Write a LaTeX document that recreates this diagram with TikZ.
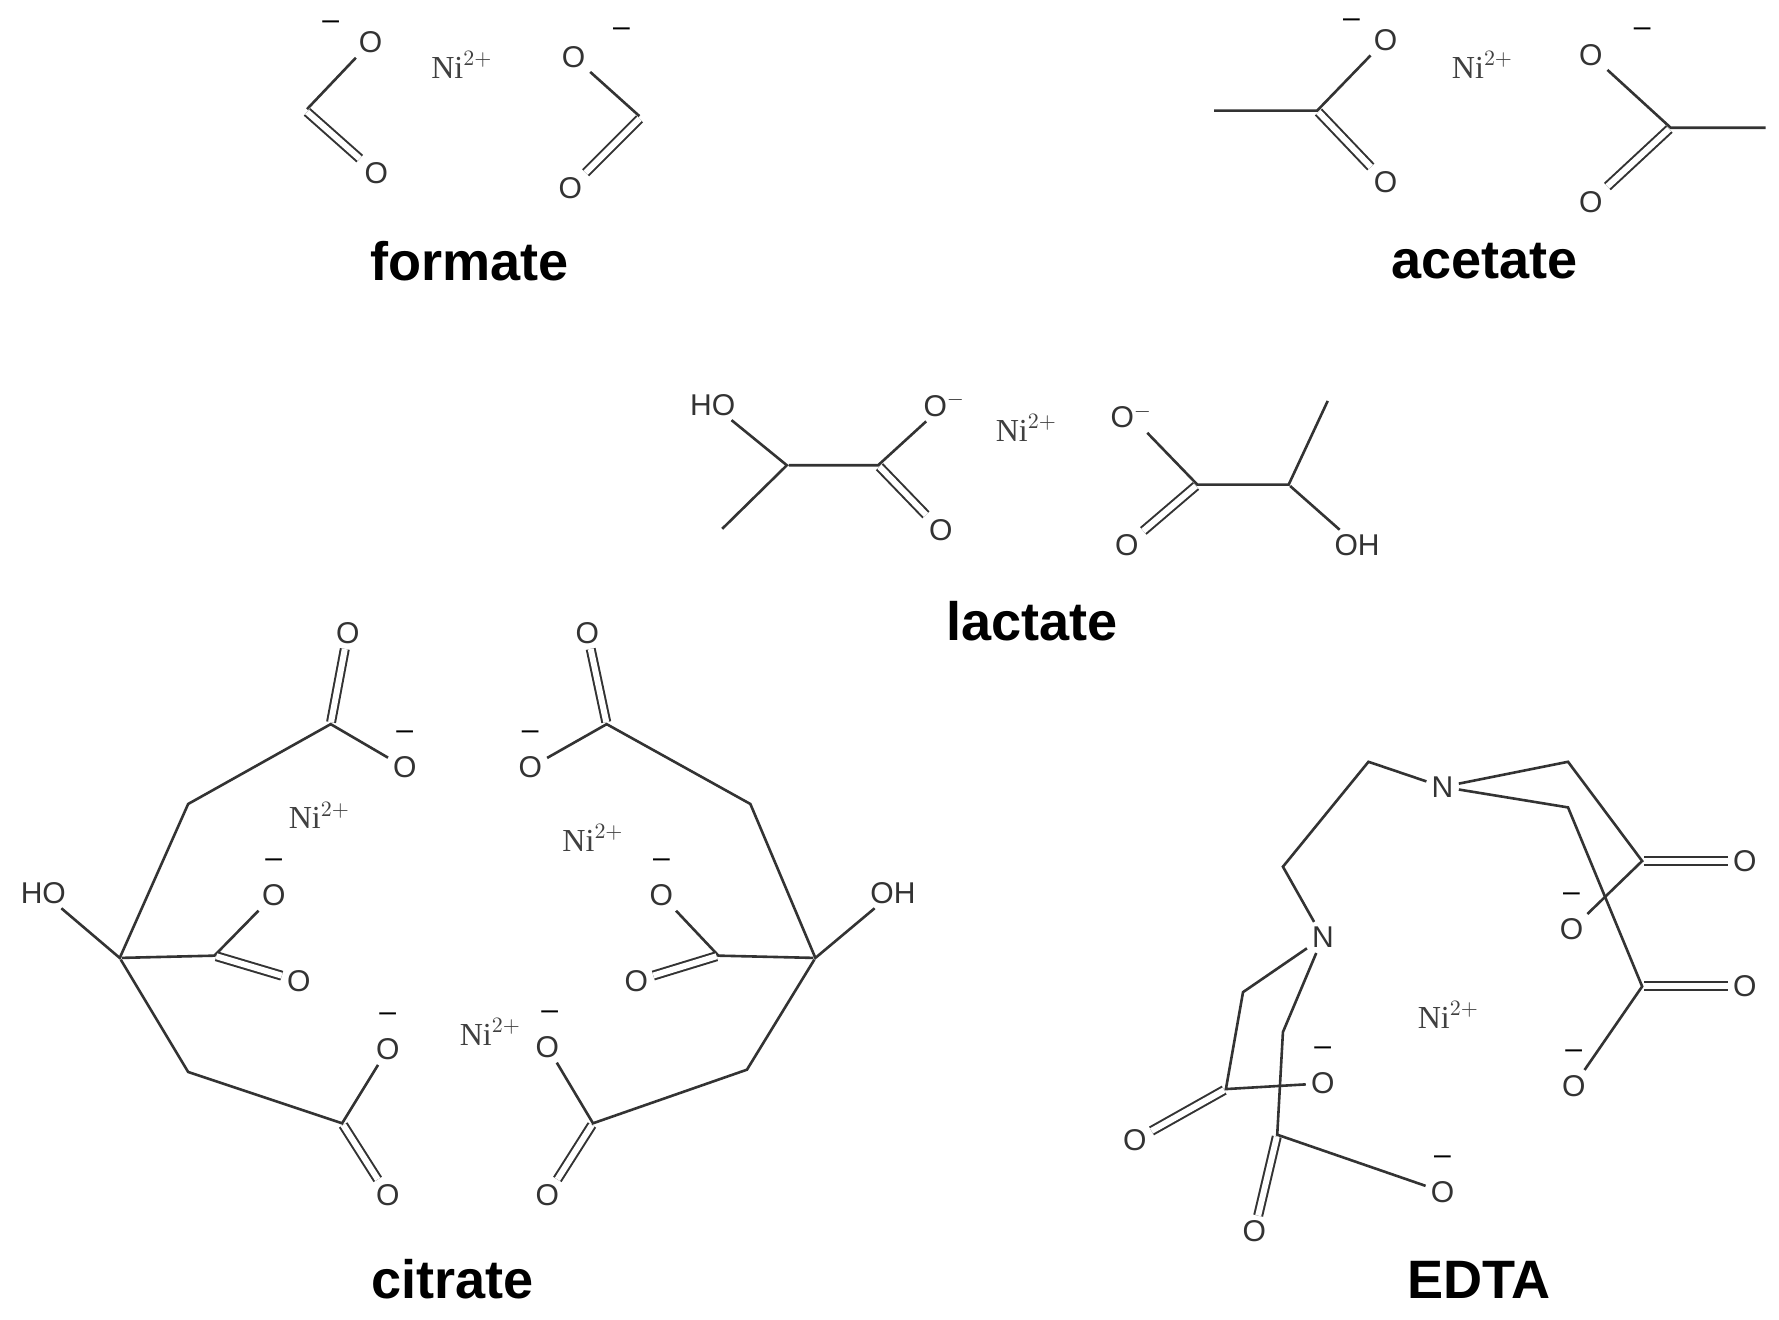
\documentclass[tikz,border=0pt]{standalone}
\usepackage{fontspec}
\setmainfont{Liberation Serif}
\newfontfamily\lblfont{Liberation Sans}
\begin{document}
\begin{tikzpicture}[x=0.02cm,y=-0.02cm,
  bd/.style={line width=1.3pt,draw=black!80,shorten <=1pt,shorten >=1pt},
  db/.style={bd,double,double distance=3pt,line width=1pt},
  atm/.style={inner sep=1.5pt,font=\lblfont\fontsize{15}{15}\selectfont,text=black!80},
  ni/.style={font=\fontsize{16}{16}\selectfont,text=black!75},
  chg/.style={font=\lblfont\fontsize{15}{15}\selectfont,inner sep=0pt},
  lab/.style={font=\lblfont\bfseries\fontsize{27}{27}\selectfont}]
\useasboundingbox (0,0) rectangle (1560,1157);
\newcommand\At[4]{\node[atm] (#1) at (#2,#3) {#4};}
\newcommand\Cc[3]{\coordinate (#1) at (#2,#3);}
\newcommand\Chg[3]{\node[chg] at (#1,#2) {#3};}
% formate
\At{fo1}{325}{37}{O}\Chg{290}{22}{–}
\Cc{fc1}{268}{97}\At{fo2}{330}{152}{O}
\draw[bd] (fo1)--(fc1); \draw[db] (fc1)--(fo2);
\node[ni] (fni) at (405,57) {Ni$^{2+}$};
\At{fo3}{503}{50}{O}\Chg{545}{28}{–}
\Cc{fc2}{562}{103}\At{fo4}{500}{165}{O}
\draw[bd] (fo3)--(fc2); \draw[db] (fc2)--(fo4);
\node[lab] (lf) at (412,229) {formate};
% acetate
\Cc{am1}{1063}{97}\Cc{ac1}{1155}{97}\At{ao1}{1215}{35}{O}\Chg{1185}{20}{–}\At{ao2}{1215}{160}{O}
\draw[bd] (am1)--(ac1)--(ao1); \draw[db] (ac1)--(ao2);
\node[ni] (ani) at (1300,57) {Ni$^{2+}$};
\At{ao3}{1395}{48}{O}\Chg{1440}{28}{–}\Cc{ac2}{1465}{112}\Cc{am2}{1550}{112}\At{ao4}{1395}{177}{O}
\draw[bd] (ao3)--(ac2)--(am2); \draw[db] (ac2)--(ao4);
\node[lab] (la) at (1302,229) {acetate};
% lactate
\At{lho}{625}{355}{HO}\Cc{lch}{690}{408}\Cc{lm}{632}{465}\Cc{lc}{770}{408}
\At{lo1}{828}{355}{O$^{-}$}\At{lo2}{825}{465}{O}
\draw[bd] (lho)--(lch)--(lm); \draw[bd] (lch)--(lc)--(lo1); \draw[db] (lc)--(lo2);
\node[ni] (lni) at (900,375) {Ni$^{2+}$};
\At{lo3}{992}{365}{O$^{-}$}\Cc{lc2}{1050}{425}\At{lo4}{988}{478}{O}\Cc{lch2}{1130}{425}\Cc{lm2}{1165}{350}\At{loh}{1190}{478}{OH}
\draw[bd] (lo3)--(lc2)--(lch2)--(lm2); \draw[bd] (lch2)--(loh); \draw[db] (lc2)--(lo4);
\node[lab] (ll) at (905,545) {lactate};
% citrate left
\Cc{cc}{105}{840}\At{cho}{38}{783}{HO}\Cc{cm1}{165}{705}\Cc{ck1}{290}{635}\At{cco1}{305}{555}{O}\At{cco2}{355}{673}{O}\Chg{355}{645}{–}
\draw[bd] (cho)--(cc)--(cm1)--(ck1)--(cco2); \draw[db] (ck1)--(cco1);
\Cc{ck2}{188}{838}\At{cco3}{240}{785}{O}\Chg{240}{757}{–}\At{cco4}{262}{860}{O}
\draw[bd] (cc)--(ck2)--(cco3); \draw[db] (ck2)--(cco4);
\Cc{cm2}{165}{940}\Cc{ck3}{300}{985}\At{cco5}{340}{1048}{O}\At{cco6}{340}{920}{O}\Chg{340}{892}{–}
\draw[bd] (cc)--(cm2)--(ck3)--(cco6); \draw[db] (ck3)--(cco5);
% citrate right
\Cc{dc}{715}{840}\At{dho}{783}{783}{OH}\Cc{dm1}{658}{705}\Cc{dk1}{532}{635}\At{dco1}{515}{555}{O}\At{dco2}{465}{673}{O}\Chg{465}{645}{–}
\draw[bd] (dho)--(dc)--(dm1)--(dk1)--(dco2); \draw[db] (dk1)--(dco1);
\Cc{dk2}{630}{838}\At{dco3}{580}{785}{O}\Chg{580}{757}{–}\At{dco4}{558}{860}{O}
\draw[bd] (dc)--(dk2)--(dco3); \draw[db] (dk2)--(dco4);
\Cc{dm2}{655}{938}\Cc{dk3}{520}{985}\At{dco5}{480}{1048}{O}\At{dco6}{480}{918}{O}\Chg{482}{890}{–}
\draw[bd] (dc)--(dm2)--(dk3)--(dco6); \draw[db] (dk3)--(dco5);
\node[ni] (cn1) at (280,715) {Ni$^{2+}$};
\node[ni] (cn2) at (520,735) {Ni$^{2+}$};
\node[ni] (cn3) at (430,905) {Ni$^{2+}$};
\node[lab] (lc) at (397,1122) {citrate};
% EDTA
\At{n1}{1265}{690}{N}\At{n2}{1160}{822}{N}
\Cc{e1}{1125}{760}\Cc{e2}{1200}{668}
\draw[bd] (n2)--(e1)--(e2)--(n1);
\Cc{ea1}{1375}{668}\Cc{eb1}{1440}{755}\At{eo1}{1530}{755}{O}\At{eo2}{1378}{815}{O}\Chg{1378}{787}{–}
\draw[bd] (n1)--(ea1)--(eb1)--(eo2); \draw[db] (eb1)--(eo1);
\Cc{ea2}{1375}{708}\Cc{eb2}{1440}{865}\At{eo3}{1530}{865}{O}\At{eo4}{1380}{952}{O}\Chg{1380}{924}{–}
\draw[bd] (n1)--(ea2)--(eb2)--(eo4); \draw[db] (eb2)--(eo3);
\Cc{ea3}{1090}{870}\Cc{eb3}{1075}{955}\At{eo5}{995}{1000}{O}\At{eo6}{1160}{950}{O}\Chg{1160}{922}{–}
\draw[bd] (n2)--(ea3)--(eb3)--(eo6); \draw[db] (eb3)--(eo5);
\Cc{ea4}{1125}{905}\Cc{eb4}{1120}{995}\At{eo7}{1100}{1080}{O}\At{eo8}{1265}{1045}{O}\Chg{1265}{1017}{–}
\draw[bd] (n2)--(ea4)--(eb4)--(eo8); \draw[db] (eb4)--(eo7);
\node[ni] (eni) at (1270,890) {Ni$^{2+}$};
\node[lab] (le) at (1297,1122) {EDTA};
\end{tikzpicture}
\end{document}
